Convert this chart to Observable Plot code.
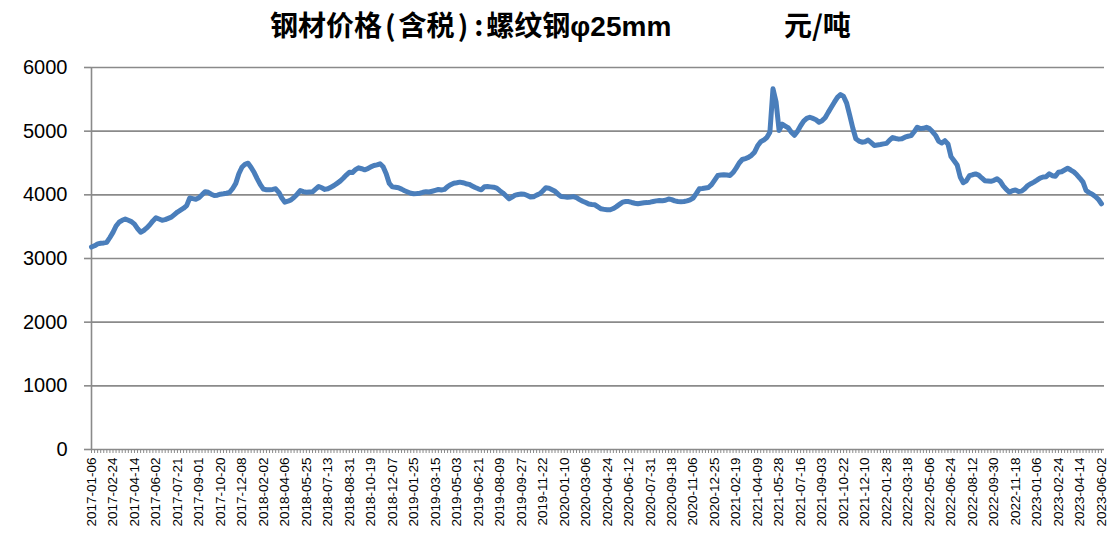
<!DOCTYPE html>
<html>
<head>
<meta charset="utf-8">
<script src="https://cdn.jsdelivr.net/npm/d3@7"></script>
<script src="https://cdn.jsdelivr.net/npm/@observablehq/plot@0.6"></script>
<style>
  html, body { margin: 0; padding: 0; background: #fff; }
  #wrap { position: relative; width: 1112px; height: 535px; overflow: hidden; }
  .title { position: absolute; top: 8px; font-family: "Liberation Sans", "Noto Sans CJK SC", sans-serif; font-weight: bold; font-size: 28px; color: #000; white-space: pre; line-height: 32px; }
  .cjk { font-family: "Noto Sans CJK SC", sans-serif; }
  .p { font-family: "Noto Sans CJK SC", sans-serif; margin: 0 3px; }
</style>
</head>
<body>
<div id="wrap">
  <div class="title" style="left:270px"><span class="cjk">钢材价格</span><span class="p">(</span><span class="cjk">含税</span><span class="p">)</span><span class="p">:</span><span class="cjk">螺纹钢</span>φ25mm</div>
  <div class="title cjk" style="left:784px">元/吨</div>
</div>
<script>
// Tick labels (every 7th weekly observation)
const tickLabels = [
  "2017-01-06","2017-02-24","2017-04-14","2017-06-02","2017-07-21","2017-09-01","2017-10-20","2017-12-08",
  "2018-02-02","2018-04-06","2018-05-25","2018-07-13","2018-08-31","2018-10-19","2018-12-07",
  "2019-01-25","2019-03-15","2019-05-03","2019-06-21","2019-08-09","2019-09-27","2019-11-22",
  "2020-01-10","2020-03-06","2020-04-24","2020-06-12","2020-07-31","2020-09-18","2020-11-06","2020-12-25",
  "2021-02-19","2021-04-09","2021-05-28","2021-07-16","2021-09-03","2021-10-22","2021-12-10",
  "2022-01-28","2022-03-18","2022-05-06","2022-06-24","2022-08-12","2022-09-30","2022-11-18",
  "2023-01-06","2023-02-24","2023-04-14","2023-06-02"
];

// Weekly price, 元/吨
const prices = [
  3180,3200,3230,3240,3245,3256,3330,3410,3510,3570,3600,3620,3600,3580,3540,3470,
  3413,3440,3480,3530,3590,3639,3620,3600,3610,3630,3649,3690,3730,3760,3790,3830,
  3950,3940,3930,3953,4000,4050,4040,4010,3990,3995,4010,4016,4025,4040,4100,
  4180,4330,4434,4480,4497,4430,4350,4252,4160,4090,4080,4079,4085,4095,4040,3950,
  3885,3900,3920,3960,4010,4068,4050,4042,4045,4047,4090,4131,4110,4085,4095,4120,
  4146,4180,4215,4260,4310,4355,4350,4395,4424,4410,4393,4410,4440,4460,4470,
  4487,4440,4330,4180,4125,4120,4112,4090,4065,4045,4025,4016,4020,4026,4040,4050,
  4045,4057,4070,4084,4075,4085,4130,4160,4183,4190,4199,4190,4175,4165,4140,4115,
  4095,4079,4128,4130,4125,4120,4105,4065,4030,3985,3937,3965,3995,4005,4012,
  4010,3990,3965,3970,3995,4016,4060,4110,4105,4080,4055,4010,3972,3968,3963,3965,
  3972,3955,3925,3900,3880,3855,3848,3843,3810,3780,3772,3765,3765,3785,3815,
  3850,3885,3895,3895,3880,3868,3859,3868,3875,3878,3885,3895,3905,3911,3908,3915,
  3935,3925,3905,3895,3893,3895,3905,3922,3950,4020,4095,4100,4108,4115,4160,4230,
  4303,4310,4314,4310,4303,4350,4420,4500,4555,4570,4588,4620,4670,4770,4835,
  4860,4900,4984,5665,5460,5010,5110,5080,5050,4984,4935,5000,5085,5157,5200,5219,
  5200,5180,5141,5165,5210,5295,5375,5455,5530,5576,5545,5440,5250,5050,4880,4845,
  4827,4835,4860,4820,4775,4782,4790,4800,4808,4860,4900,4885,4875,4880,4905,
  4920,4930,4990,5062,5040,5045,5060,5040,4990,4932,4840,4815,4850,4800,4600,4535,
  4470,4280,4190,4220,4300,4315,4328,4310,4265,4222,4218,4212,4228,4252,4215,
  4140,4085,4042,4065,4075,4052,4058,4095,4146,4175,4200,4230,4262,4280,4285,4330,
  4300,4292,4355,4362,4390,4418,4390,4360,4315,4260,4199,4068,4035,4010,3974,3930,
  3860
];

const yTicks = [0, 1000, 2000, 3000, 4000, 5000, 6000];
const labelStep = 7;

const data = prices.map((v, i) => ({i, v}));
const allIdx = prices.map((_, i) => i);
const labelIdx = tickLabels.map((_, k) => k * labelStep);

const gridColor = "#8a8a8a";

const chart = Plot.plot({
  width: 1112,
  height: 535,
  marginLeft: 91,
  marginRight: 8,
  marginTop: 67,
  marginBottom: 86,
  style: {fontFamily: "'Liberation Sans', Arial, sans-serif", color: "#000", background: "transparent", overflow: "visible"},
  x: {domain: [0, prices.length], axis: null},
  y: {domain: [0, 6000], axis: null},
  marks: [
    Plot.gridY(yTicks, {stroke: gridColor, strokeOpacity: 1, strokeWidth: 1.6}),
    Plot.ruleX([0], {stroke: gridColor, strokeWidth: 1.6}),
    Plot.axisY(yTicks, {label: null, tickSize: 7, tickPadding: 17, tickFormat: d3.format("d"), fontSize: 20, stroke: gridColor, strokeWidth: 1.6, fill: "#000"}),
    Plot.axisX(allIdx, {label: null, tickSize: 4, tickFormat: () => "", stroke: gridColor, strokeWidth: 1}),
    Plot.axisX(labelIdx, {label: null, tickSize: 0, tickPadding: 8, tickRotate: -90, tickFormat: i => tickLabels[i / labelStep], fontSize: 13.5, fill: "#000"}),
    Plot.line(data, {x: "i", y: "v", stroke: "#4A7EBB", strokeWidth: 5, strokeLinejoin: "round", strokeLinecap: "round"})
  ]
});
document.getElementById("wrap").prepend(chart);
chart.style.position = "absolute";
chart.style.left = "0";
chart.style.top = "0";
</script>
</body>
</html>
